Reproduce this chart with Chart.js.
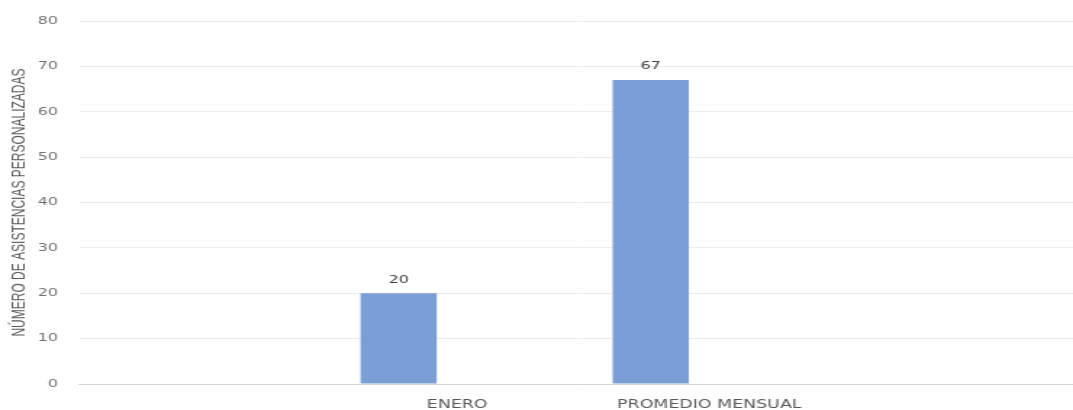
<!DOCTYPE html>
<html>
<head>
<meta charset="utf-8">
<script src="https://cdn.jsdelivr.net/npm/chart.js@4.4.1/dist/chart.umd.min.js"></script>
<style>
    html, body { margin: 0; padding: 0; background: #fff; overflow: hidden; }
    /* plot runs a little past the right edge, so the frame crops it */
    #wrap { width: 1073px; height: 410px; overflow: hidden; }
    /* the chart is drawn narrow and widened, like the exported image */
    #asistencias-chart { display: block; transform: scaleX(1.45); transform-origin: 0 0; }
</style>
</head>
<body>
<div id="wrap">
    <canvas id="asistencias-chart" width="750" height="410"></canvas>
</div>
<script>
const categorias = ['', 'ENERO', 'PROMEDIO MENSUAL', ''];
const asistencias = [null, 20, 67, null];
// second series has no values, it only keeps each bar left of its category
const serieVacia = [null, null, null, null];
const ticksY = [0, 10, 20, 30, 40, 50, 60, 70, 80];

// value on top of each bar
const etiquetas = {
    id: 'etiquetas',
    afterDatasetsDraw(chart) {
        const ctx = chart.ctx;
        const meta = chart.getDatasetMeta(0);
        ctx.save();
        ctx.font = '11px "DejaVu Sans"';
        ctx.fillStyle = '#404040';
        ctx.textAlign = 'center';
        ctx.textBaseline = 'middle';
        meta.data.forEach((bar, i) => {
            const v = asistencias[i];
            if (v === null) return;
            ctx.fillText(String(v), bar.x, bar.y - 13.5);
        });
        ctx.restore();
    }
};

const asistenciasChart = new Chart(document.getElementById('asistencias-chart'), {
    type: 'bar',
    data: {
        labels: categorias,
        datasets: [{
            label: 'Asistencias',
            data: asistencias,
            backgroundColor: '#7b9ed6',
            categoryPercentage: 0.93,
            barPercentage: 0.65
        }, {
            label: '',
            data: serieVacia,
            backgroundColor: '#7b9ed6',
            categoryPercentage: 0.93,
            barPercentage: 0.65
        }]
    },
    options: {
        responsive: false,
        animation: false,
        devicePixelRatio: 1,
        layout: { padding: { top: 19, right: 0, bottom: 0, left: 0 } },
        plugins: {
            legend: { display: false },
            tooltip: { enabled: false }
        },
        scales: {
            x: {
                grid: { display: false, drawTicks: false },
                border: { display: true, color: '#d4d4d4', width: 1 },
                ticks: {
                    autoSkip: false,
                    maxRotation: 0,
                    padding: 14,
                    color: '#595959',
                    font: { family: 'DejaVu Sans', size: 12 }
                },
                afterFit(scale) { scale.height = 26; }
            },
            y: {
                min: 0,
                max: 80,
                grid: { color: '#ebebeb', drawTicks: false, tickLength: 0 },
                border: { display: false },
                afterBuildTicks(scale) {
                    scale.ticks = ticksY.map(v => ({ value: v }));
                },
                ticks: {
                    padding: 14.5,
                    color: '#707070',
                    font: { family: 'DejaVu Sans', size: 11 }
                },
                title: {
                    display: true,
                    text: 'NÚMERO DE ASISTENCIAS PERSONALIZADAS',
                    color: '#595959',
                    font: { family: 'Liberation Sans', size: 12 },
                    padding: { top: 6.5, bottom: 0 }
                },
                afterFit(scale) { scale.width = 54.5; }
            }
        }
    },
    plugins: [etiquetas]
});
</script>
</body>
</html>
